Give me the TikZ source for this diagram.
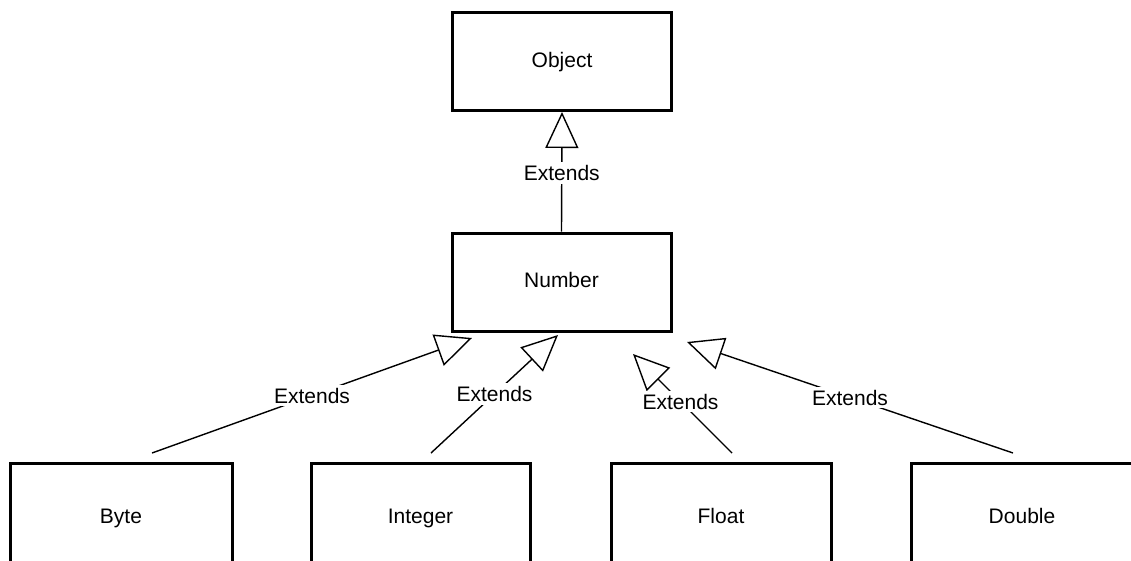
\documentclass[tikz,border=0pt]{standalone}
\usepackage{fontspec}
\setmainfont{Liberation Sans}
\usetikzlibrary{arrows.meta}
\begin{document}
\begin{tikzpicture}[x=1pt,y=-1pt,
  cls/.style={draw=black, line width=3pt, minimum width=219pt, minimum height=98pt, inner sep=0pt, fill=white, text height=15pt, text depth=4pt, font=\fontsize{21}{24}\selectfont},
  ext/.style={line width=1.4pt, -{Triangle[open, length=36pt, width=33pt]}},
  lbl/.style={fill=white, inner sep=3pt, font=\fontsize{21}{24}\selectfont}]
\useasboundingbox (0,0) rectangle (1131,560);
\node[cls] (object) at (562,61.5) {Object};
\node[cls] (number) at (561.5,282) {Number};
\node[cls, minimum width=222pt, minimum height=110pt] (byte) at (121,518) {Byte};
\node[cls, minimum height=110pt] (integer) at (420.5,518) {Integer};
\node[cls, minimum width=220pt, minimum height=110pt] (float) at (721,518) {Float};
\node[cls, minimum width=222pt, minimum height=110pt] (double) at (1022,518) {Double};
\coordinate (byteS) at (152,453);  \coordinate (byteT) at (472,338);
\coordinate (intS) at (431,453);   \coordinate (intT) at (558,335);
\coordinate (fltS) at (732,453);   \coordinate (fltT) at (633,354);
\coordinate (dblS) at (1013,453);  \coordinate (dblT) at (687,342);
\draw[ext] (number.north) -- node[lbl, pos=0.49] {Extends} (object.south);
\draw[ext] (byteS) -- node[lbl] {Extends} (byteT);
\draw[ext] (intS) -- node[lbl] {Extends} (intT);
\draw[ext] (fltS) -- node[lbl, pos=0.52] {Extends} (fltT);
\draw[ext] (dblS) -- node[lbl] {Extends} (dblT);
\end{tikzpicture}
\end{document}
